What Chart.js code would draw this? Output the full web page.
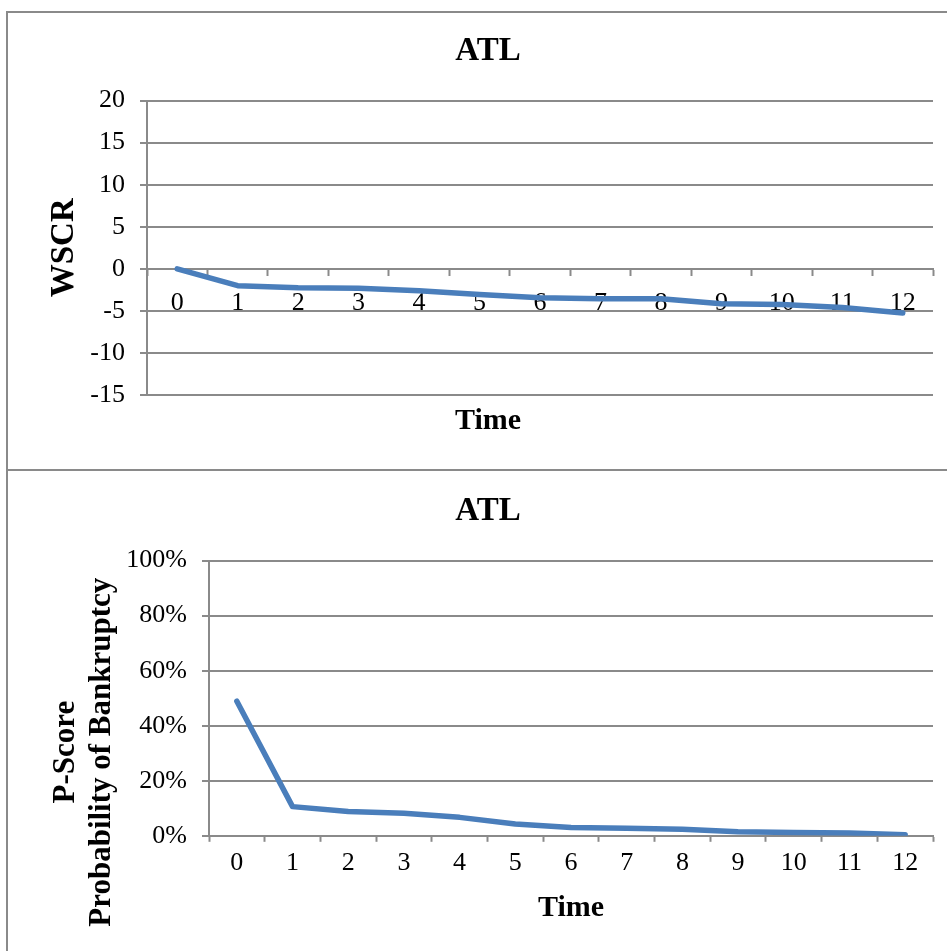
<!DOCTYPE html>
<html>
<head>
<meta charset="utf-8">
<title>ATL</title>
<script src="https://cdn.jsdelivr.net/npm/chart.js@4.4.1/dist/chart.umd.min.js"></script>
<style>
  body { margin: 0; background: #fff; overflow: hidden; }
  .frame {
    position: absolute;
    left: 6px;
    width: 964px;
    border: 2px solid #8a8a8a;
    box-sizing: border-box;
    background: #fff;
  }
  #topFrame { top: 11px; height: 460px; }
  #bottomFrame { top: 469px; height: 500px; }
  canvas { display: block; }
</style>
</head>
<body>
<div class="frame" id="topFrame"><canvas id="wscrChart" width="960" height="456"></canvas></div>
<div class="frame" id="bottomFrame"><canvas id="pscoreChart" width="960" height="480"></canvas></div>

<script>
const timeLabels = ['0', '1', '2', '3', '4', '5', '6', '7', '8', '9', '10', '11', '12'];
const wscrValues = [0, -2.0, -2.25, -2.3, -2.6, -3.05, -3.45, -3.55, -3.55, -4.15, -4.25, -4.6, -5.25];
const pScoreValues = [48.9, 10.6, 8.8, 8.2, 6.7, 4.3, 3.0, 2.7, 2.4, 1.5, 1.2, 1.0, 0.4];

const chartTitle = 'ATL';
const xTitle = 'Time';
const wscrTitle = 'WSCR';
const pScoreTitle = ['P-Score', 'Probability of Bankruptcy'];

const gridGray = '#8a8a8a';
const lineBlue = '#4a7ebb';
const serif = '"Liberation Serif", "Times New Roman", serif';

Chart.defaults.font.family = serif;
Chart.defaults.color = '#000';

// rotated multi-line axis title, placed a little below the plot centre
const sideTitle = {
  id: 'sideTitle',
  afterDraw(chart, args, opts) {
    if (!opts.lines) return;
    const { ctx, chartArea } = chart;
    ctx.save();
    ctx.translate(opts.x, (chartArea.top + chartArea.bottom) / 2 + opts.shift);
    ctx.rotate(-Math.PI / 2);
    ctx.font = 'bold ' + opts.size + 'px ' + serif;
    ctx.fillStyle = '#000';
    ctx.textAlign = 'center';
    ctx.textBaseline = 'middle';
    opts.lines.forEach((t, i) => ctx.fillText(t, 0, i * opts.lineGap));
    ctx.restore();
  }
};

function lineDataset(values) {
  return {
    data: values,
    borderColor: lineBlue,
    borderWidth: 5.5,
    pointRadius: 0,
    tension: 0,
    borderCapStyle: 'round',
    borderJoinStyle: 'round',
    fill: false
  };
}

const headFont = { size: 33, weight: 'bold' };
const axisFont = { size: 30, weight: 'bold' };
const tickFont = { size: 26 };

// WSCR over time, x axis crossing at zero
new Chart(document.getElementById('wscrChart'), {
  type: 'line',
  data: { labels: timeLabels, datasets: [lineDataset(wscrValues)] },
  options: {
    responsive: false,
    animation: false,
    layout: { padding: { left: 35, right: 35, top: 0, bottom: 30 } },
    plugins: {
      legend: { display: false },
      tooltip: { enabled: false },
      title: { display: true, text: chartTitle, font: headFont, color: '#000', padding: { top: 19, bottom: 29 } },
      subtitle: { display: true, position: 'bottom', text: xTitle, font: axisFont, color: '#000', padding: { top: 8, bottom: 0 } }
    },
    scales: {
      x: {
        type: 'category',
        position: { y: 0 },
        offset: true,
        grid: { offset: true, drawOnChartArea: false, drawTicks: true, tickLength: 6, tickColor: gridGray, tickWidth: 2 },
        border: { display: true, color: gridGray, width: 2 },
        ticks: { font: tickFont, padding: 13, maxRotation: 0, autoSkip: false }
      },
      y: {
        min: -15,
        max: 20,
        ticks: { stepSize: 5, font: tickFont, padding: 15 },
        grid: { color: gridGray, lineWidth: 2, tickLength: 7, tickColor: gridGray },
        border: { display: true, color: gridGray, width: 2 },
        title: { display: true, text: wscrTitle, font: headFont, color: '#000', padding: { top: 2, bottom: 0 } },
        afterFit(scale) { scale.width = 104; }
      }
    }
  }
});

// P-Score (probability of bankruptcy) over time
new Chart(document.getElementById('pscoreChart'), {
  type: 'line',
  data: { labels: timeLabels, datasets: [lineDataset(pScoreValues)] },
  plugins: [sideTitle],
  options: {
    responsive: false,
    animation: false,
    layout: { padding: { left: 35, right: 35, top: 0, bottom: 25 } },
    plugins: {
      legend: { display: false },
      tooltip: { enabled: false },
      title: { display: true, text: chartTitle, font: headFont, color: '#000', padding: { top: 21, bottom: 29 } },
      sideTitle: { lines: pScoreTitle, x: 58, shift: 54, lineGap: 36, size: 31 }
    },
    scales: {
      x: {
        type: 'category',
        offset: true,
        grid: { offset: true, drawOnChartArea: false, drawTicks: true, tickLength: 6, tickColor: gridGray, tickWidth: 2 },
        border: { display: true, color: gridGray, width: 2 },
        ticks: { font: tickFont, padding: 6, maxRotation: 0, autoSkip: false },
        title: { display: true, text: xTitle, font: axisFont, color: '#000', padding: { top: 5, bottom: 0 } }
      },
      y: {
        min: 0,
        max: 100,
        ticks: { stepSize: 20, font: tickFont, padding: 15, callback: v => v + '%' },
        grid: { color: gridGray, lineWidth: 2, tickLength: 7, tickColor: gridGray },
        border: { display: true, color: gridGray, width: 2 },
        afterFit(scale) { scale.width = 166; }
      }
    }
  }
});
</script>
</body>
</html>
